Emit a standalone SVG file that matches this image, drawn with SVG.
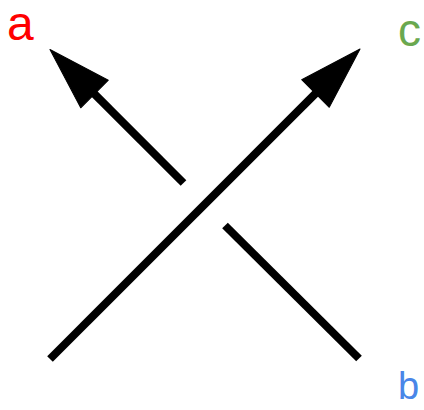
<svg xmlns="http://www.w3.org/2000/svg" width="424" height="410" viewBox="0 0 424 410">
  <style>
    .strand { fill: none; stroke: #000; stroke-width: 8; stroke-linecap: butt; }
    .lbl { font-family: "Liberation Sans", Arial, sans-serif; }
  </style>
  <defs>
    <marker id="head" markerUnits="userSpaceOnUse" markerWidth="70" markerHeight="42" viewBox="0 -21 70 42" refX="2" refY="0" orient="auto" overflow="visible">
      <path d="M0,-19.5 L63,0 L0,19.5 Z" fill="#000" stroke="#000" stroke-width="1" stroke-linejoin="round"/>
    </marker>
  </defs>
  <rect width="424" height="410" fill="#fff"/>
  <g id="connectors">
    <line class="strand" x1="50" y1="359" x2="316.9" y2="92.1" marker-end="url(#head)"/>
    <line class="strand" x1="183.5" y1="183" x2="93.1" y2="92.6" marker-end="url(#head)"/>
    <line class="strand" x1="225" y1="225.5" x2="359" y2="358.5"/>
  </g>
  <g id="label-a"><text class="lbl" x="7" y="40" font-size="48" fill="#ff0000">a</text></g>
  <g id="label-c"><text class="lbl" x="398" y="46" font-size="46" fill="#6aa84f">c</text></g>
  <g id="label-b"><text class="lbl" x="398" y="399" font-size="38" fill="#4a86e8">b</text></g>
</svg>
